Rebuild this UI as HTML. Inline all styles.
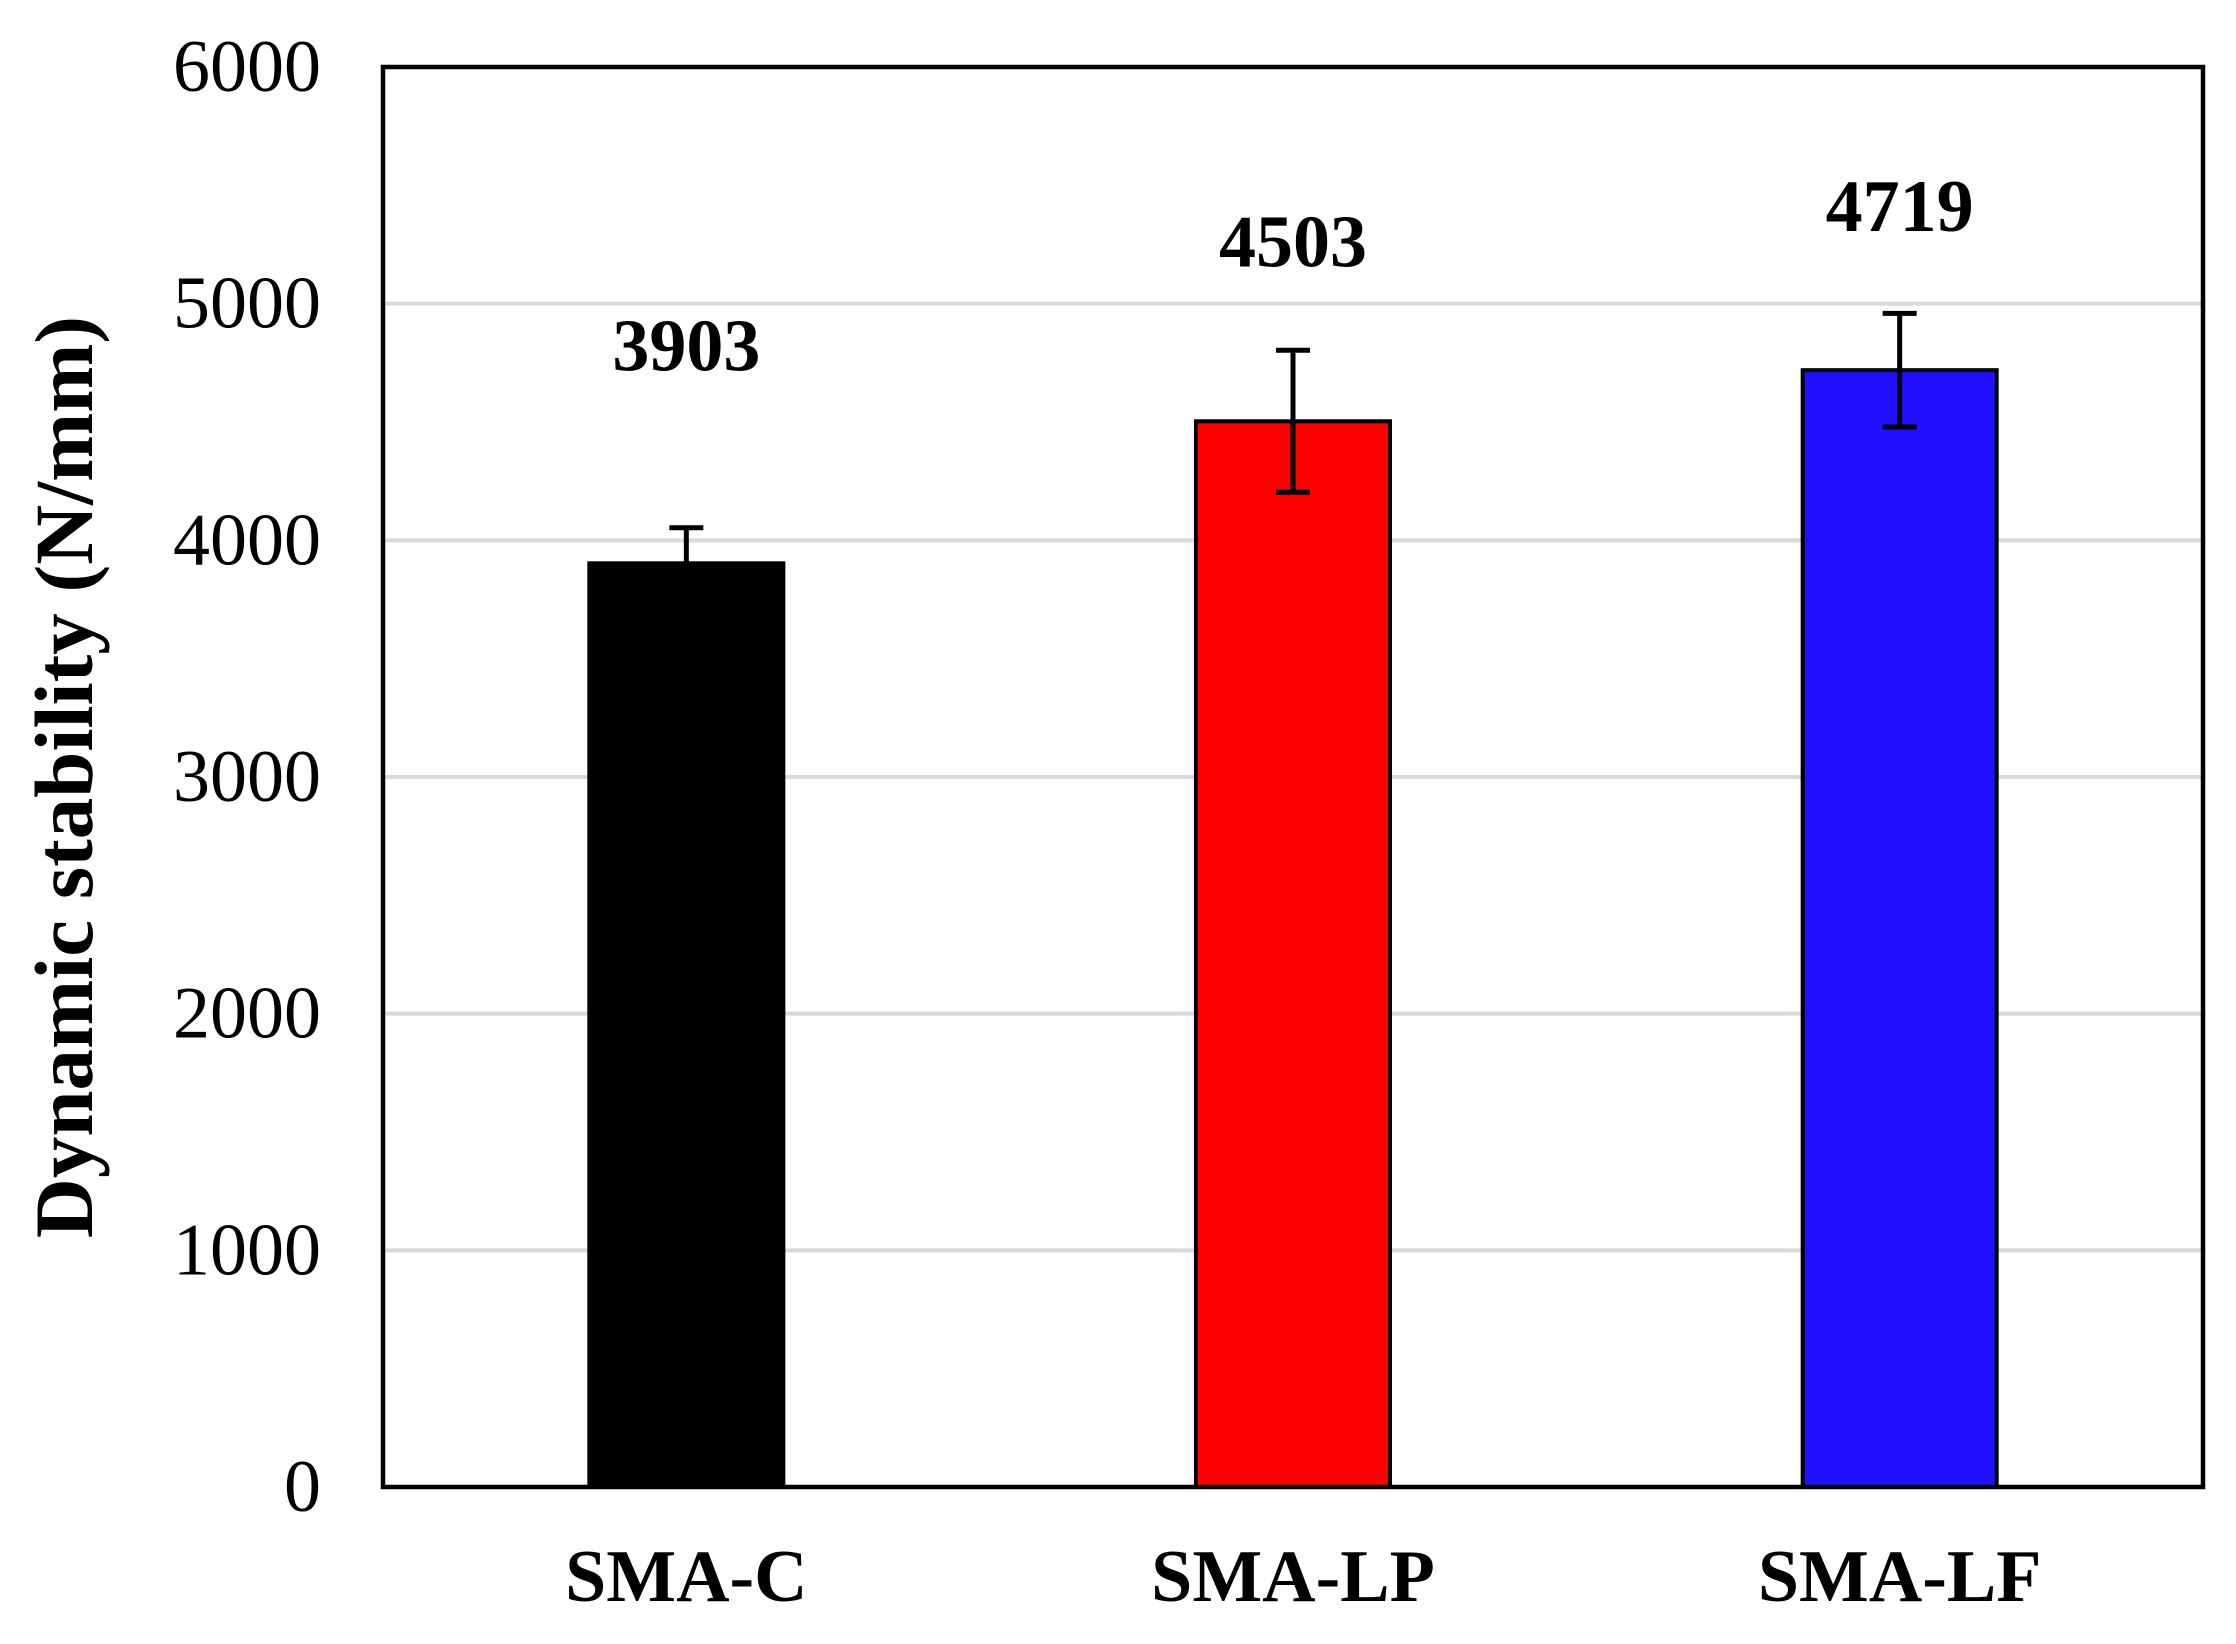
<!DOCTYPE html>
<html><head><meta charset="utf-8"><style>
html,body{margin:0;padding:0;background:#fff;}
svg{display:block;font-family:"Liberation Serif",serif;}
</style></head><body>
<svg id="chart" width="2236" height="1644" viewBox="0 0 2236 1644" xmlns="http://www.w3.org/2000/svg">
<g id="grid"></g>
<g id="bars"></g>
<rect x="383" y="67" width="1820" height="1420" fill="none" stroke="#000" stroke-width="4.5"/>
<g id="yticks"></g>
<g id="xlabels"></g>
<text transform="translate(92,777) rotate(-90)" text-anchor="middle" font-weight="bold" font-size="83">Dynamic stability (N/mm)</text>
</svg>
<script>
const categories = ["SMA-C","SMA-LP","SMA-LF"];
const values = [3903,4503,4719];
const errors = [150,300,240];
const valueLabels = ["3903","4503","4719"];
const labelAt = [4717,5157,5307];
const yTicks = [0,1000,2000,3000,4000,5000,6000];
const colors = ["#000000","#ff0000","#2010ff"];

const L=383,R=2203,T=67,B=1487,yMax=6000;
const ns="http://www.w3.org/2000/svg";
function y(v){return B-(v/yMax)*(B-T);}
function xc(i){const w=(R-L)/categories.length;return L+w*(i+0.5);}
function mk(tag,attrs,parent){const e=document.createElementNS(ns,tag);for(const k in attrs)e.setAttribute(k,attrs[k]);parent.appendChild(e);return e;}
const grid=document.getElementById('grid'),bars=document.getElementById('bars'),yt=document.getElementById('yticks'),xl=document.getElementById('xlabels');
yTicks.forEach(t=>{
  if(t>0&&t<yMax){const g=mk('line',{x1:L,x2:R,y1:y(t),y2:y(t),stroke:'#d9d9d9','stroke-width':4},grid);
  
  }
  const tx=mk('text',{x:321,y:y(t)+24,'text-anchor':'end','font-size':74},yt);
  tx.textContent=t;
  
  
});
const bw=194;
categories.forEach((c,i)=>{
  const cx=xc(i);
  const r=mk('rect',{x:cx-bw/2,y:y(values[i]),width:bw,height:B-y(values[i]),fill:colors[i],stroke:'#000','stroke-width':4},bars);
  
  
  const eg=mk('g',{stroke:'#000','stroke-width':5},bars);
  
  
  const yt1=y(values[i]+errors[i]),yb=y(values[i]-errors[i]);
  mk('line',{x1:cx,x2:cx,y1:yt1,y2:yb},eg);
  mk('line',{x1:cx-17,x2:cx+17,y1:yt1,y2:yt1},eg);
  mk('line',{x1:cx-17,x2:cx+17,y1:yb,y2:yb},eg);
  const vl=mk('text',{x:cx,y:y(labelAt[i]),'text-anchor':'middle','font-size':74,'font-weight':'bold'},bars);
  vl.textContent=valueLabels[i];
  
  
  const cl=mk('text',{x:cx,y:1601,'text-anchor':'middle','font-size':74,'font-weight':'bold'},xl);
  cl.textContent=c;
  
  
});
</script>
</body></html>
